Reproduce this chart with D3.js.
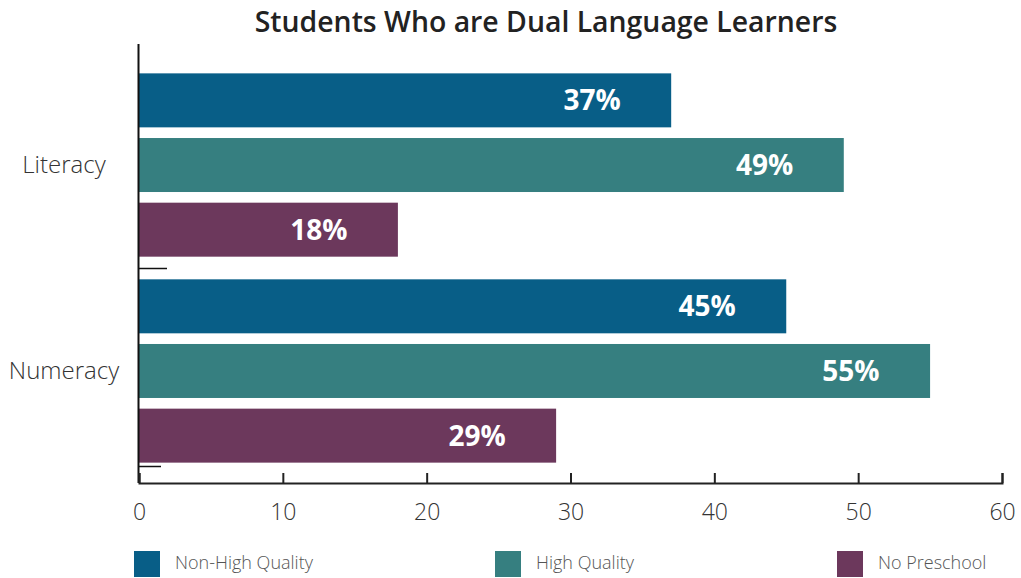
<!DOCTYPE html>
<html>
<head>
<meta charset="utf-8">
<script src="https://cdn.jsdelivr.net/npm/d3@7/dist/d3.min.js"></script>
<style>
  html, body { margin: 0; padding: 0; background: #fff; }
  svg { display: block; font-family: "Open Sans", sans-serif; }
</style>
</head>
<body>
<svg id="chart" width="1021" height="578"></svg>
<script>
// Outcome categories (rows) and preschool groups (bars within each row)
const categories = ["Literacy", "Numeracy"];
const seriesNames = ["Non-High Quality", "High Quality", "No Preschool"];
const nonHighQuality = [37, 45];
const highQuality = [49, 55];
const noPreschool = [18, 29];
const xTicks = [0, 10, 20, 30, 40, 50, 60];
const colors = ["#085e87", "#367f80", "#6c385c"];

const seriesValues = [nonHighQuality, highQuality, noPreschool];
const rows = categories.map((c, i) => ({
  category: c,
  bars: seriesNames.map((s, j) => ({ series: s, value: seriesValues[j][i], color: colors[j] }))
}));

const svg = d3.select("#chart");
const plotTop = 44, plotBottom = 483, plotLeft = 139, plotRight = 1002;

const x = d3.scaleLinear().domain([0, 60]).range([plotLeft, plotRight]);
const y0 = d3.scaleBand().domain(categories).range([61, 475])
  .paddingInner(0.11).paddingOuter(0.06);
const y1 = d3.scaleBand().domain(seriesNames).range([0, y0.bandwidth()])
  .paddingInner(0.165);

// Title
svg.append("text")
  .attr("x", 546).attr("y", 32)
  .attr("text-anchor", "middle")
  .attr("font-size", 28.4).attr("font-weight", 600)
  .attr("fill", "#222")
  .text("Students Who are Dual Language Learners");

// Bars
const groups = svg.selectAll("g.row").data(rows).join("g")
  .attr("class", "row")
  .attr("transform", d => `translate(0,${y0(d.category)})`);

groups.selectAll("rect").data(d => d.bars).join("rect")
  .attr("x", x(0))
  .attr("y", d => y1(d.series))
  .attr("width", d => x(d.value) - x(0))
  .attr("height", y1.bandwidth())
  .attr("fill", d => d.color);

groups.selectAll("text.val").data(d => d.bars).join("text")
  .attr("class", "val")
  .attr("x", d => x(d.value - 5.5))
  .attr("y", d => y1(d.series) + y1.bandwidth() / 2)
  .attr("dy", "0.36em")
  .attr("text-anchor", "middle")
  .attr("font-size", 28).attr("font-weight", 700)
  .attr("fill", "#fff")
  .text(d => d.value + "%");

// Category labels, centred on each row
svg.selectAll("text.cat").data(categories).join("text")
  .attr("class", "cat")
  .attr("x", 64)
  .attr("y", d => y0(d) + y0.bandwidth() / 2 - 1)
  .attr("dy", "0.36em")
  .attr("text-anchor", "middle")
  .attr("font-size", 24).attr("font-weight", 300)
  .attr("fill", "#333")
  .text(d => d);

// Left axis line with separator ticks
svg.append("line")
  .attr("x1", plotLeft - 0.5).attr("x2", plotLeft - 0.5)
  .attr("y1", plotTop).attr("y2", plotBottom)
  .attr("stroke", "#111").attr("stroke-width", 2);

const sepTicks = [
  { y: y0("Numeracy") - y0.step() * y0.paddingInner() / 2, len: 28 },
  { y: y0("Numeracy") + y0.bandwidth() + 3, len: 22 }
];
svg.selectAll("line.sep").data(sepTicks).join("line")
  .attr("class", "sep")
  .attr("x1", plotLeft).attr("x2", d => plotLeft + d.len)
  .attr("y1", d => Math.round(d.y) + 0.5).attr("y2", d => Math.round(d.y) + 0.5)
  .attr("stroke", "#111").attr("stroke-width", 1.5);

// Bottom axis: ticks point up into the plot
const xAxis = d3.axisBottom(x).tickValues(xTicks).tickSize(-10).tickPadding(0)
  .tickFormat(d3.format("d"));
const gx = svg.append("g")
  .attr("transform", `translate(0,${plotBottom})`)
  .call(xAxis);
gx.select(".domain").attr("stroke", "#222").attr("stroke-width", 2);
gx.selectAll(".tick line").attr("stroke", "#222").attr("stroke-width", 2);
gx.selectAll(".tick text")
  .attr("y", 37).attr("dy", 0)
  .attr("font-family", "Open Sans, sans-serif")
  .attr("font-size", 23).attr("font-weight", 300)
  .attr("fill", "#333");

// Legend
const legendX = [134, 495, 837];
const legend = svg.selectAll("g.legend").data(seriesNames).join("g")
  .attr("class", "legend")
  .attr("transform", (d, i) => `translate(${legendX[i]},551)`);
legend.append("rect")
  .attr("width", 26).attr("height", 26)
  .attr("fill", (d, i) => colors[i]);
legend.append("text")
  .attr("x", 41).attr("y", 12).attr("dy", "0.36em")
  .attr("font-size", 18).attr("font-weight", 300)
  .attr("fill", "#555")
  .text(d => d);
</script>
</body>
</html>
